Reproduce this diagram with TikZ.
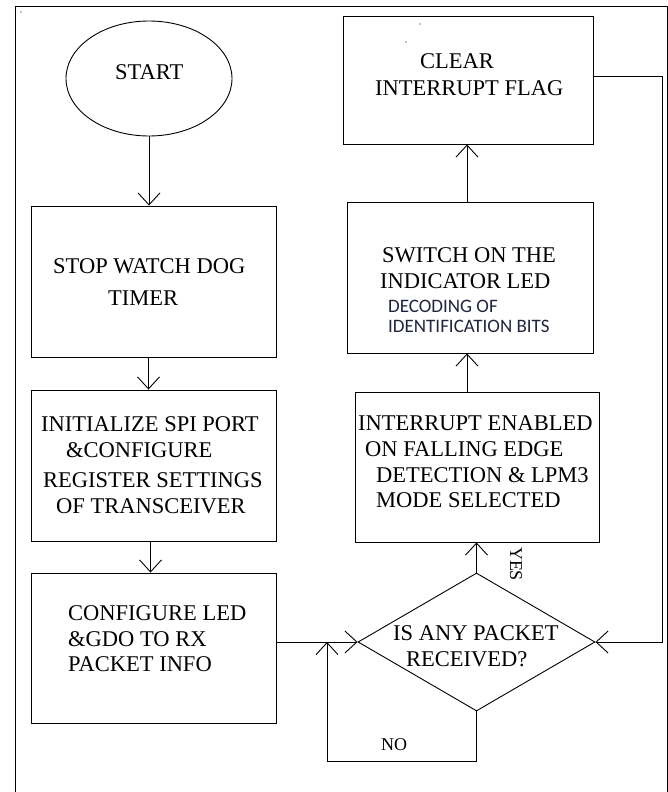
\documentclass[tikz,border=0pt]{standalone}
\usepackage{fontspec}
\setmainfont{Liberation Serif}
\newfontfamily\calib{Carlito}
\usetikzlibrary{arrows.meta,shapes.geometric,calc}
\definecolor{navytxt}{RGB}{32,36,60}
\begin{document}
\begin{tikzpicture}[x=1pt,y=-1pt,
  box/.style={draw, line width=0.9pt, rectangle, inner sep=0pt},
  txt/.style={anchor=base west, inner sep=0pt, font=\fontsize{22.5}{25}\selectfont},
  small/.style={anchor=base west, inner sep=0pt, font=\calib\fontsize{19}{21}\selectfont, text=navytxt},
  arr/.style={line width=0.9pt, -{Straight Barb[length=12pt,width=22pt]}},
  ln/.style={line width=0.9pt}]
\useasboundingbox (0,0) rectangle (668,792);
% outer frame
\draw[ln] (15,792) -- (15,6) -- (667,6) -- (667,792);
\fill (21,12) circle (0.7);
\fill (420,24) circle (0.7);
\fill (406,42) circle (0.7);

% shapes
\node[box, ellipse, minimum width=166pt, minimum height=115pt] (start) at (149,78.5) {};
\node[box, minimum width=250pt, minimum height=128pt] (clear) at (468,80) {};
\node[box, minimum width=245pt, minimum height=151pt] (stop) at (153.5,281.5) {};
\node[box, minimum width=246pt, minimum height=151pt] (switch) at (470,277.5) {};
\node[box, minimum width=245pt, minimum height=151pt] (init) at (153.5,465.5) {};
\node[box, minimum width=244pt, minimum height=150pt] (int) at (477,467) {};
\node[box, minimum width=245pt, minimum height=150pt] (conf) at (153.5,648) {};
\node[box, diamond, minimum width=237pt, minimum height=138pt] (dia) at (476.5,642) {};

% texts
\node[txt] (tstart) at (115,80) {START};
\node[txt] (tclear1) at (420,68.3) {CLEAR};
\node[txt] (tclear2) at (375,95) {INTERRUPT FLAG};
\node[txt] (tstop1) at (53,273.3) {STOP WATCH DOG};
\node[txt] (tstop2) at (108,305) {TIMER};
\node[txt] (tinit1) at (41,431) {INITIALIZE SPI PORT};
\node[txt] (tinit2) at (66,457) {\&CONFIGURE};
\node[txt] (tinit3) at (43,487.5) {REGISTER SETTINGS};
\node[txt] (tinit4) at (56,513) {OF TRANSCEIVER};
\node[txt] (tconf1) at (68,620.7) {CONFIGURE LED};
\node[txt] (tconf2) at (68,646.7) {\&GDO TO RX};
\node[txt] (tconf3) at (68,671.7) {PACKET INFO};
\node[txt] (tsw1) at (382,262.7) {SWITCH ON THE};
\node[txt] (tsw2) at (380,288.3) {INDICATOR LED};
\node[small] (tsw3) at (388,312.7) {DECODING OF};
\node[small] (tsw4) at (388,332.7) {IDENTIFICATION BITS};
\node[txt] (tint1) at (358,430.7) {INTERRUPT ENABLED};
\node[txt] (tint2) at (365,456.7) {ON FALLING EDGE};
\node[txt] (tint3) at (376,482.3) {DETECTION \& LPM3};
\node[txt] (tint4) at (376,507.3) {MODE SELECTED};
\node[txt] (tdia1) at (393,640.7) {IS ANY PACKET};
\node[txt] (tdia2) at (406,666.7) {RECEIVED?};
\node[rotate=-90, inner sep=0pt, font=\fontsize{18}{20}\selectfont] (yes) at (516,564) {YES};
\node[anchor=base west, inner sep=0pt, font=\fontsize{18}{20}\selectfont] (no) at (381,750.7) {NO};

% connectors
\coordinate (rt) at (662,76);
\coordinate (lb1) at (475,761);
\coordinate (lb2) at (327,761);
\draw[arr] (start.south) -- (start.south |- stop.north);
\draw[arr] ([xshift=-5pt]stop.south) -- ([xshift=-5pt]stop.south |- init.north);
\draw[arr] ([xshift=-3pt]init.south) -- ([xshift=-3pt]init.south |- conf.north);
\draw[arr] (conf.east |- dia.west) -- (dia.west);
\draw[arr] (dia.north) -- (dia.north |- int.south);
\draw[arr] ([xshift=-3pt]switch.south |- int.north) -- ([xshift=-3pt]switch.south);
\draw[arr] ([xshift=-3pt]switch.north) -- ([xshift=-3pt]switch.north |- clear.south);
\draw[arr] (clear.east |- rt) -- (rt) -- (rt |- dia.east) -- (dia.east);
\draw[arr] (dia.south) -- (dia.south |- lb1) -- (lb2) -- (lb2 |- dia.west);
\end{tikzpicture}
\end{document}
